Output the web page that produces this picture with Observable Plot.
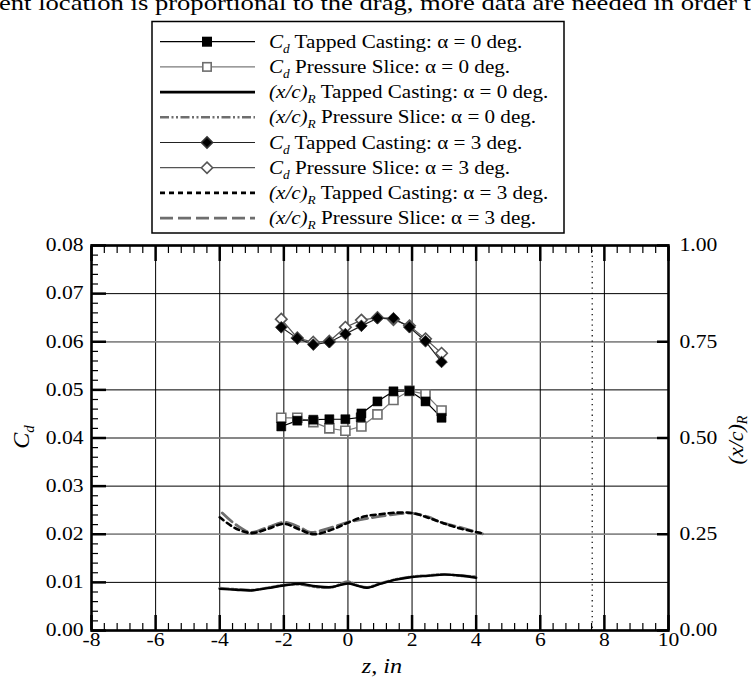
<!DOCTYPE html>
<html><head><meta charset="utf-8">
<script src="https://cdn.jsdelivr.net/npm/d3@7"></script>
<script src="https://cdn.jsdelivr.net/npm/@observablehq/plot@0.6"></script>
<style>
body{margin:0;background:#fff;}
#wrap{position:relative;width:751px;height:679px;overflow:hidden;font-family:"Liberation Serif","Times New Roman",serif;background:#fff;}
#wrap svg{position:absolute;left:0;top:0;}
</style></head><body>
<div id="wrap"></div>
<script>
// ---------- data ----------
const topText = "ent location is proportional to the drag, more data are needed in order t";
const legendLabels = [
  ["C","d"," Tapped Casting: \u03b1 = 0 deg."],
  ["C","d"," Pressure Slice: \u03b1 = 0 deg."],
  ["(x/c)","R"," Tapped Casting: \u03b1 = 0 deg."],
  ["(x/c)","R"," Pressure Slice: \u03b1 = 0 deg."],
  ["C","d"," Tapped Casting: \u03b1 = 3 deg."],
  ["C","d"," Pressure Slice: \u03b1 = 3 deg."],
  ["(x/c)","R"," Tapped Casting: \u03b1 = 3 deg."],
  ["(x/c)","R"," Pressure Slice: \u03b1 = 3 deg."]
];
const xTicks = [-8, -6, -4, -2, 0, 2, 4, 6, 8, 10];
const cdTicks = [0, 0.01, 0.02, 0.03, 0.04, 0.05, 0.06, 0.07, 0.08];
const xcTicks = [0, 0.25, 0.5, 0.75, 1.0];
const dottedLineZ = 7.62;

// Cd, alpha = 0
const zCdTap0 = [-2.08, -1.58, -1.08, -0.58, -0.08, 0.40, 0.42, 0.92, 1.42, 1.92, 2.42, 2.92];
const cdTap0  = [0.0424, 0.0436, 0.0438, 0.0439, 0.0439, 0.0443, 0.0451, 0.0476, 0.0497, 0.0498, 0.0476, 0.0442];
const zCd     = [-2.08, -1.58, -1.08, -0.58, -0.08, 0.42, 0.92, 1.42, 1.92, 2.42, 2.92];
const cdPress0 = [0.0442, 0.0442, 0.0433, 0.0420, 0.0415, 0.0424, 0.0449, 0.0479, 0.0498, 0.0491, 0.0457];
// Cd, alpha = 3
const cdTap3   = [0.0630, 0.0607, 0.0594, 0.0599, 0.0616, 0.0633, 0.0649, 0.0649, 0.0630, 0.0601, 0.0558];
const cdPress3 = [0.0647, 0.0608, 0.0599, 0.0601, 0.0630, 0.0645, 0.0650, 0.0646, 0.0633, 0.0606, 0.0576];

// (x/c)_R, alpha = 0
const zXc0 = [-4.0, -3.5, -3.0, -2.5, -2.0, -1.5, -1.0, -0.5, 0.0, 0.3, 0.6, 1.0, 1.5, 2.0, 2.5, 3.0, 3.5, 4.0];
const xcTap0   = [0.108, 0.106, 0.104, 0.110, 0.117, 0.121, 0.115, 0.113, 0.122, 0.116, 0.111, 0.121, 0.132, 0.139, 0.142, 0.145, 0.143, 0.137];
const xcPress0 = [0.110, 0.107, 0.105, 0.111, 0.118, 0.120, 0.113, 0.112, 0.127, 0.117, 0.112, 0.122, 0.133, 0.140, 0.143, 0.146, 0.142, 0.140];
// (x/c)_R, alpha = 3
const zXcTap3 = [-4.0, -3.5, -3.0, -2.5, -2.0, -1.5, -1.06, -0.5, 0.0, 0.5, 1.0, 1.5, 2.0, 2.5, 3.0, 3.5, 4.15];
const xcTap3  = [0.294, 0.265, 0.253, 0.264, 0.277, 0.262, 0.250, 0.262, 0.280, 0.296, 0.302, 0.306, 0.305, 0.293, 0.278, 0.265, 0.253];
const zXcPress3 = [-3.92, -3.5, -3.04, -2.5, -2.0, -1.5, -1.17, -0.5, 0.0, 0.8, 1.5, 1.95, 2.5, 2.9, 3.5, 4.2];
const xcPress3  = [0.305, 0.275, 0.255, 0.268, 0.281, 0.268, 0.255, 0.268, 0.281, 0.294, 0.302, 0.305, 0.295, 0.281, 0.268, 0.251];

// ---------- build ----------
const K = 0.08; // right axis (x/c)_R = 1.00 corresponds to Cd = 0.08
const pts = (zs, vs, f = 1) => zs.map((z, i) => ({z, v: vs[i] * f}));
const dTap0 = pts(zCdTap0, cdTap0), dPress0 = pts(zCd, cdPress0);
const dTap3 = pts(zCd, cdTap3), dPress3 = pts(zCd, cdPress3);
const lTap0 = pts(zXc0, xcTap0, K), lPress0 = pts(zXc0, xcPress0, K);
const lTap3 = pts(zXcTap3, xcTap3, K), lPress3 = pts(zXcPress3, xcPress3, K);

const xMinor = d3.range(-8, 10.001, 0.4).filter(v => Math.abs(v / 2 - Math.round(v / 2)) > 1e-6);
const yMinor = d3.range(0, 0.0801, 0.002).filter(v => Math.abs(v / 0.01 - Math.round(v / 0.01)) > 1e-6);
const xcGrid = xcTicks.map(v => v * K);
const blank = () => "";
const FS = 18;

const plot = Plot.plot({
  width: 751, height: 679,
  marginLeft: 91, marginRight: 83, marginTop: 245, marginBottom: 49,
  style: {fontFamily: "'Liberation Serif', 'Times New Roman', serif", fontSize: FS + "px", color: "black", background: "transparent", overflow: "visible"},
  x: {domain: [-8, 10]},
  y: {domain: [0, 0.08]},
  marks: [
    Plot.gridX(xTicks, {stroke: "black", strokeOpacity: 1, strokeWidth: 1}),
    Plot.gridY(cdTicks, {stroke: "black", strokeOpacity: 1, strokeWidth: 1}),
    Plot.gridY(xcGrid, {stroke: "#8a8a8a", strokeOpacity: 1, strokeWidth: 1.6}),
    Plot.ruleX([dottedLineZ], {stroke: "black", strokeWidth: 1.2, strokeDasharray: "1.3,4"}),
    // ticks (inward)
    Plot.axisX(xMinor, {anchor: "bottom", tickSize: -7, strokeWidth: 1.2, tickFormat: blank, label: null}),
    Plot.axisX(xTicks, {anchor: "bottom", tickSize: -15, strokeWidth: 2.5, tickFormat: blank, label: null}),
    Plot.axisX(xMinor, {anchor: "top", tickSize: -7, strokeWidth: 1.2, tickFormat: blank, label: null}),
    Plot.axisX(xTicks, {anchor: "top", tickSize: -15, strokeWidth: 2.5, tickFormat: blank, label: null}),
    Plot.axisY(yMinor, {anchor: "left", tickSize: -7, strokeWidth: 1.2, tickFormat: blank, label: null}),
    Plot.axisY(cdTicks, {anchor: "left", tickSize: -15, strokeWidth: 2.5, tickFormat: blank, label: null}),
    Plot.axisY(xcGrid, {anchor: "right", tickSize: -12, strokeWidth: 2.5, tickFormat: blank, label: null}),
    // tick labels
    Plot.axisX(xTicks, {anchor: "bottom", tickSize: 0, tickPadding: 3, label: null, tickFormat: d => String(d)}),
    Plot.axisY(cdTicks, {anchor: "left", tickSize: 0, tickPadding: 8, label: null, tickFormat: d3.format(".2f")}),
    Plot.axisY(xcGrid, {anchor: "right", tickSize: 0, tickPadding: 11, label: null, tickFormat: d => d3.format(".2f")(d / K)}),
    // (x/c)_R lines
    Plot.line(lPress0, {x: "z", y: "v", stroke: "#6e6e6e", strokeWidth: 2.6, strokeDasharray: "9,2.5,2,2.5,2,2.5", curve: "catmull-rom"}),
    Plot.line(lTap0, {x: "z", y: "v", stroke: "black", strokeWidth: 2.4, curve: "catmull-rom"}),
    Plot.line(lPress3, {x: "z", y: "v", stroke: "#6e6e6e", strokeWidth: 2.8, strokeDasharray: "13,5", curve: "catmull-rom"}),
    Plot.line(lTap3, {x: "z", y: "v", stroke: "black", strokeWidth: 2.6, strokeDasharray: "5,4", curve: "catmull-rom"}),
    // Cd alpha = 0
    Plot.line(dPress0, {x: "z", y: "v", stroke: "#7a7a7a", strokeWidth: 1.2}),
    Plot.line(dTap0, {x: "z", y: "v", stroke: "black", strokeWidth: 1.2}),
    Plot.dot(dPress0, {x: "z", y: "v", symbol: "square", r: 5.1, fill: "white", stroke: "#6e6e6e", strokeWidth: 1.6}),
    Plot.dot(dTap0, {x: "z", y: "v", symbol: "square", r: 5.1, fill: "black", stroke: "black", strokeWidth: 0.5}),
    // Cd alpha = 3
    Plot.line(dPress3, {x: "z", y: "v", stroke: "#555", strokeWidth: 1.2}),
    Plot.line(dTap3, {x: "z", y: "v", stroke: "#222", strokeWidth: 1.2}),
    Plot.dot(dPress3, {x: "z", y: "v", symbol: "diamond2", r: 5.2, fill: "white", stroke: "#555", strokeWidth: 1.6}),
    Plot.dot(dTap3, {x: "z", y: "v", symbol: "diamond2", r: 5.2, fill: "black", stroke: "#333", strokeWidth: 1}),
    Plot.frame({stroke: "black", strokeWidth: 2.6})
  ]
});
const wrap = document.getElementById("wrap");
wrap.appendChild(plot);

// widen tick-label glyphs like the reference's typeface
const stretch = (el, f) => {
  const len = el.getComputedTextLength();
  if (len > 0) { el.setAttribute("textLength", (len * f).toFixed(1)); el.setAttribute("lengthAdjust", "spacingAndGlyphs"); }
};
d3.select(plot).selectAll("text").each(function () { stretch(this, 1.2); });

// ---------- axis titles ----------
const svg = d3.select(plot);
const ital = "italic";
const t1 = svg.append("text").attr("transform", "translate(29,437) rotate(-90)")
  .attr("text-anchor", "middle").attr("font-size", 24).attr("font-style", ital).attr("fill", "black");
t1.append("tspan").text("C");
t1.append("tspan").attr("font-size", 15).attr("dy", 5).text("d");
const t2 = svg.append("text").attr("transform", "translate(743,440) rotate(-90)")
  .attr("text-anchor", "middle").attr("font-size", 22).attr("font-style", ital).attr("fill", "black");
t2.append("tspan").text("(x/c)");
t2.append("tspan").attr("font-size", 14).attr("dy", 4).text("R");
const t3 = svg.append("text").attr("x", 382).attr("y", 673).attr("text-anchor", "middle")
  .attr("font-size", 21).attr("font-style", ital).attr("fill", "black").text("z, in");
stretch(t3.node(), 1.15);

// ---------- top clipped text + legend ----------
const ov = d3.select(wrap).append("svg").attr("width", 751).attr("height", 240)
  .style("font-family", "'Liberation Serif', 'Times New Roman', serif");
ov.append("text").attr("x", -1).attr("y", 9.5).attr("font-size", 21).attr("fill", "black")
  .attr("textLength", 752).attr("lengthAdjust", "spacingAndGlyphs").text(topText);

ov.append("rect").attr("x", 152).attr("y", 21.5).attr("width", 412).attr("height", 211.5)
  .attr("fill", "white").attr("stroke", "black").attr("stroke-width", 1.5);

const legStyles = [
  {stroke: "black", w: 1.2, dash: null, mk: "square", fill: "black", mstroke: "black"},
  {stroke: "#7a7a7a", w: 1.2, dash: null, mk: "square", fill: "white", mstroke: "#6e6e6e"},
  {stroke: "black", w: 2.6, dash: null},
  {stroke: "#6e6e6e", w: 2.6, dash: "9,2.5,2,2.5,2,2.5"},
  {stroke: "#222", w: 1.2, dash: null, mk: "diamond", fill: "black", mstroke: "#333"},
  {stroke: "#555", w: 1.2, dash: null, mk: "diamond", fill: "white", mstroke: "#555"},
  {stroke: "black", w: 2.6, dash: "5,4"},
  {stroke: "#6e6e6e", w: 2.8, dash: "13,5"}
];
legStyles.forEach((s, i) => {
  const y = 41.7 + 25.2 * i;
  ov.append("line").attr("x1", 160).attr("x2", 255).attr("y1", y).attr("y2", y)
    .attr("stroke", s.stroke).attr("stroke-width", s.w).attr("stroke-dasharray", s.dash);
  if (s.mk === "square") {
    ov.append("rect").attr("x", 207 - 4.2).attr("y", y - 4.2).attr("width", 8.4).attr("height", 8.4)
      .attr("fill", s.fill).attr("stroke", s.mstroke).attr("stroke-width", 1.6);
  } else if (s.mk === "diamond") {
    ov.append("path").attr("d", `M207,${y - 5.6}L212.6,${y}L207,${y + 5.6}L201.4,${y}Z`)
      .attr("fill", s.fill).attr("stroke", s.mstroke).attr("stroke-width", 1.6);
  }
  const lab = legendLabels[i];
  const t = ov.append("text").attr("x", 269).attr("y", y + 6).attr("font-size", 19).attr("fill", "black");
  t.append("tspan").attr("font-style", "italic").text(lab[0]);
  t.append("tspan").attr("font-style", "italic").attr("font-size", 12).attr("dy", 5).text(lab[1]);
  t.append("tspan").attr("dy", -5).text(lab[2]);
  stretch(t.node(), 1.11);
});
</script>
</body></html>
